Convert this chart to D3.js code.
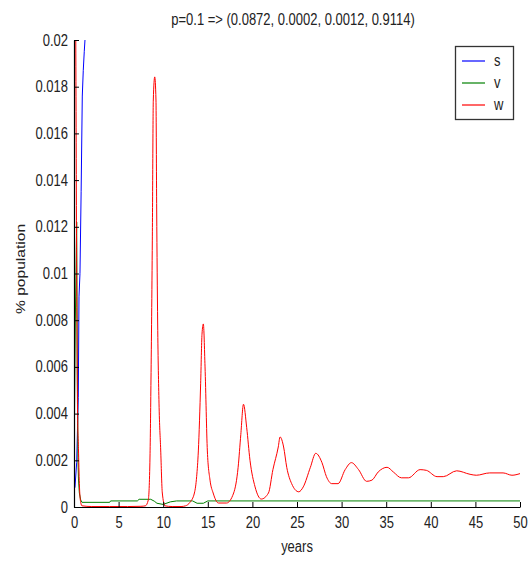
<!DOCTYPE html>
<html>
<head>
<meta charset="utf-8">
<script src="https://cdn.jsdelivr.net/npm/d3@7"></script>
<style>
  html, body { margin: 0; padding: 0; background: #fff; }
  svg { display: block; font-family: "Liberation Sans", Arial, sans-serif; }
</style>
</head>
<body>
<svg id="chart" width="529" height="562"></svg>
<script>
// ---- chart text ----
const titleText = "p=0.1 => (0.0872, 0.0002, 0.0012, 0.9114)";
const xLabel = "years";
const yLabel = "% population";

// ---- ticks ----
const xTicks = [0, 5, 10, 15, 20, 25, 30, 35, 40, 45, 50];
const yTicks = [0, 0.002, 0.004, 0.006, 0.008, 0.01, 0.012, 0.014, 0.016, 0.018, 0.02];
const yTickLabels = ["0", "0.002", "0.004", "0.006", "0.008", "0.01", "0.012", "0.014", "0.016", "0.018", "0.02"];

// ---- series ----
const seriesNames = ["s", "v", "w"];
const seriesColors = ["#0000ff", "#008000", "#ff0000"];

// s: susceptible share (leaves the visible range after ~1.3 years)
const sYears  = [0, 0.02, 0.05, 0.11, 0.3, 0.48, 0.56, 0.67, 0.8, 0.93, 1.04, 1.15, 1.23, 1.35];
const sValues = [0.035, 0.0015, 0.0008, 0.00085, 0.0019, 0.0047, 0.009, 0.01, 0.0135, 0.0176, 0.0187, 0.0195, 0.02, 0.0215];

// v
const vYears  = [0, 0.15, 0.3, 0.37, 0.45, 0.5, 0.6, 0.75, 0.9, 4.0, 4.1, 7.1, 7.3, 8.6, 9.0, 9.3, 10.0, 10.8, 11.5, 13.3, 13.8, 14.5, 15.0, 50];
const vValues = [0.0015, 0.008, 0.0122, 0.006, 0.002, 0.0012, 0.0006, 0.0003, 0.0002, 0.0002, 0.00026, 0.00026, 0.00033, 0.00033, 0.00025, 0.00016, 0.00011, 0.00022, 0.00026, 0.00026, 0.00016, 0.00016, 0.00026, 0.00026];

// w: damped outbreaks
const wYears  = [0, 0.05, 0.2, 0.3, 0.4, 0.5, 0.6, 0.75, 0.9, 2, 4, 6, 7.5, 8.0, 8.33, 8.52, 8.63, 8.78, 8.89, 9.05, 9.19, 9.27, 9.38, 9.53, 9.72, 9.9, 10.2, 11, 12, 12.5, 13.0, 13.5, 13.75, 13.94, 14.2, 14.35, 14.5, 14.69, 14.95, 15.25, 15.6, 16.2, 17.1, 17.9, 18.4, 18.7, 19.0, 19.36, 19.73, 20.3, 21.0, 21.8, 22.3, 22.9, 23.1, 23.5, 23.85, 24.4, 25.2, 25.7, 26.5, 27.1, 27.8, 28.3, 28.9, 29.6, 30.4, 31.1, 31.9, 32.8, 33.4, 34.1, 35.1, 35.8, 36.7, 37.5, 38.8, 39.5, 40.7, 41.4, 42.9, 44.4, 45.1, 46.6, 48.1, 49.1, 50];
const wValues = [0.001, 0.03, 0.02, 0.01, 0.004, 0.0025, 0.001, 0.0002, 0.00005, 0.00002, 0.00002, 0.00002, 0.00003, 0.00005, 0.0003, 0.00214, 0.00544, 0.01143, 0.01743, 0.01842, 0.01743, 0.01272, 0.00788, 0.00445, 0.00244, 0.0006, 0.00005, 0.00002, 0.00002, 0.00005, 0.0002, 0.0006, 0.0013, 0.0024, 0.0053, 0.0074, 0.00784, 0.006, 0.0024, 0.00115, 0.0006, 0.00017, 0.00017, 0.0006, 0.0017, 0.0031, 0.0044, 0.0034, 0.002, 0.00086, 0.00034, 0.0006, 0.0016, 0.00257, 0.003, 0.00257, 0.0017, 0.001, 0.00065, 0.00086, 0.0017, 0.0023, 0.0019, 0.0013, 0.001, 0.001, 0.0016, 0.0019, 0.0016, 0.0011, 0.00115, 0.0015, 0.0017, 0.0015, 0.00125, 0.00125, 0.0016, 0.00157, 0.0013, 0.0013, 0.00155, 0.0014, 0.00136, 0.00146, 0.00146, 0.00136, 0.00143];

// ---- layout ----
const svg = d3.select("#chart");
const plot = { left: 74, right: 520, top: 40, bottom: 507 };
const textColor = "#222";
const fontSize = 13;
const stretch = 1.2;   // tall, narrow lettering

const x = d3.scaleLinear().domain([0, 50]).range([plot.left, plot.right]);
const y = d3.scaleLinear().domain([0, 0.02]).range([plot.bottom, plot.top]);

svg.append("defs").append("clipPath").attr("id", "plot-clip")
  .append("rect")
  .attr("x", plot.left).attr("y", plot.top)
  .attr("width", plot.right - plot.left).attr("height", plot.bottom - plot.top);

// ---- lines ----
const series = [
  { name: seriesNames[0], color: seriesColors[0], xs: sYears, ys: sValues, curve: d3.curveLinear },
  { name: seriesNames[1], color: seriesColors[1], xs: vYears, ys: vValues, curve: d3.curveLinear },
  { name: seriesNames[2], color: seriesColors[2], xs: wYears, ys: wValues, curve: d3.curveMonotoneX }
];

const lines = svg.append("g").attr("clip-path", "url(#plot-clip)");
series.forEach(sr => {
  const pts = sr.xs.map((t, i) => [t, sr.ys[i]]);
  const line = d3.line().x(d => x(d[0])).y(d => y(d[1])).curve(sr.curve);
  lines.append("path")
    .attr("d", line(pts))
    .attr("fill", "none")
    .attr("stroke", sr.color)
    .attr("stroke-width", 1);
});

// ---- axes ----
const xAxis = d3.axisBottom(x).tickValues(xTicks).tickFormat(d3.format("d"))
  .tickSizeInner(-5).tickSizeOuter(0).tickPadding(0);
const yAxis = d3.axisLeft(y).tickValues(yTicks).tickFormat((d, i) => yTickLabels[i])
  .tickSizeInner(-5).tickSizeOuter(0).tickPadding(6);

const gx = svg.append("g").attr("transform", `translate(0,${plot.bottom})`).call(xAxis);
const gy = svg.append("g").attr("transform", `translate(${plot.left},0)`).call(yAxis);

[gx, gy].forEach(g => {
  g.select(".domain").attr("stroke", "#000").attr("stroke-width", 1.2);
  g.selectAll(".tick line").attr("stroke", "#000");
  g.selectAll(".tick text")
    .attr("fill", textColor)
    .attr("font-size", fontSize)
    .attr("font-family", "Liberation Sans, Arial, sans-serif");
});
gx.selectAll(".tick text").attr("y", 8).attr("dy", "0.71em")
  .attr("transform", `scale(1,${stretch})`);
gy.selectAll(".tick text").attr("dy", "0.32em")
  .attr("transform", `scale(1,${stretch})`);

// ---- axis titles ----
function stretchedText(px, py, str, anchor, rotate) {
  const g = svg.append("g")
    .attr("transform", `translate(${px},${py}) scale(1,${stretch})` + (rotate ? ` rotate(${rotate})` : ""));
  return g.append("text")
    .attr("text-anchor", anchor)
    .attr("font-size", fontSize)
    .attr("fill", textColor)
    .text(str);
}

stretchedText(293, 25, titleText, "middle");
stretchedText(297, 552, xLabel, "middle");
stretchedText(25, 269, yLabel, "middle", -90);

// ---- legend ----
const legend = svg.append("g");
legend.append("rect")
  .attr("x", 455.5).attr("y", 46.5).attr("width", 58).attr("height", 73)
  .attr("fill", "#fff").attr("stroke", "#333").attr("stroke-width", 1.3);

const legendRow = d3.scalePoint().domain(seriesNames).range([61, 105]);
seriesNames.forEach((name, i) => {
  const ly = legendRow(name);
  legend.append("line")
    .attr("x1", 462).attr("x2", 485).attr("y1", ly).attr("y2", ly)
    .attr("stroke", seriesColors[i]).attr("stroke-width", 1.2);
  const g = legend.append("g").attr("transform", `translate(494,${ly}) scale(1,${stretch})`);
  g.append("text").attr("dy", "0.32em").attr("font-size", fontSize).attr("fill", textColor).text(name);
});
</script>
</body>
</html>
